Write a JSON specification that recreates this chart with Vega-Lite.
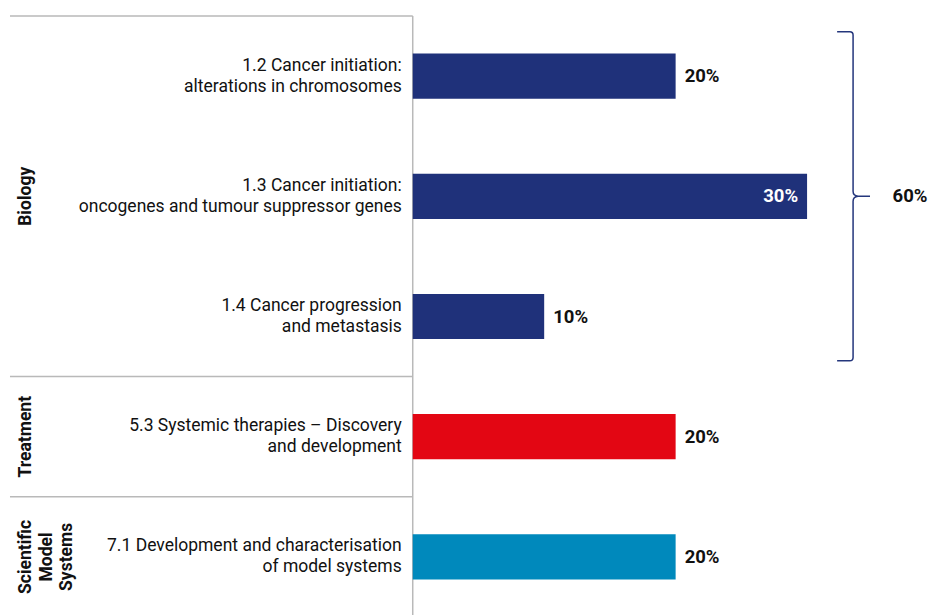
{
  "$schema": "https://vega.github.io/schema/vega-lite/v6.json",
  "width": 928,
  "height": 599,
  "autosize": {"type": "none"},
  "padding": {"top": 16, "left": 0, "right": 0, "bottom": 0},
  "background": "white",
  "config": {"view": {"stroke": null}, "font": "Roboto"},
  "datasets": {
    "bars": [
      {"code": "1.2", "label": "1.2 Cancer initiation:\nalterations in chromosomes", "group": "Biology", "value": 0.2},
      {"code": "1.3", "label": "1.3 Cancer initiation:\noncogenes and tumour suppressor genes", "group": "Biology", "value": 0.3},
      {"code": "1.4", "label": "1.4 Cancer progression\nand metastasis", "group": "Biology", "value": 0.1},
      {"code": "5.3", "label": "5.3 Systemic therapies – Discovery\nand development", "group": "Treatment", "value": 0.2},
      {"code": "7.1", "label": "7.1 Development and characterisation\nof model systems", "group": "Scientific Model Systems", "value": 0.2}
    ],
    "groups": [
      {"group": "Biology", "glabel": "Biology", "first": "1.2", "mid": "1.3", "total": 0.6},
      {"group": "Treatment", "glabel": "Treatment", "first": "5.3", "mid": "5.3"},
      {"group": "Scientific Model Systems", "glabel": "Scientific\nModel\nSystems", "first": "7.1", "mid": "7.1"}
    ],
    "one": [{}]
  },
  "layer": [
    {
      "data": {"name": "one"},
      "mark": {"type": "rule", "color": "#b9b9b9", "strokeWidth": 1.5},
      "encoding": {
        "x": {"datum": 0, "type": "quantitative", "scale": {"domain": [-0.314, 0.392], "nice": false, "zero": false}, "axis": null}
      }
    },
    {
      "data": {"name": "groups"},
      "mark": {"type": "rule", "color": "#b9b9b9", "strokeWidth": 1.5},
      "encoding": {
        "y": {"field": "first", "type": "nominal", "bandPosition": 0, "scale": {"domain": ["1.2", "1.3", "1.4", "5.3", "7.1"], "range": [0, 601], "paddingInner": 0, "paddingOuter": 0}, "axis": null},
        "x": {"datum": -0.3064, "type": "quantitative", "scale": {"domain": [-0.314, 0.392], "nice": false, "zero": false}, "axis": null},
        "x2": {"datum": 0}
      }
    },
    {
      "data": {"name": "bars"},
      "mark": {"type": "bar", "height": {"band": 0.376}},
      "encoding": {
        "y": {"field": "code", "type": "nominal", "scale": {"domain": ["1.2", "1.3", "1.4", "5.3", "7.1"], "range": [0, 601], "paddingInner": 0, "paddingOuter": 0}, "axis": null},
        "x": {"field": "value", "type": "quantitative", "scale": {"domain": [-0.314, 0.392], "nice": false, "zero": false}, "axis": null},
        "color": {"field": "group", "type": "nominal", "scale": {"domain": ["Biology", "Treatment", "Scientific Model Systems"], "range": ["#1f317a", "#e30613", "#0089bc"]}, "legend": null}
      }
    },
    {
      "data": {"name": "bars"},
      "transform": [{"filter": "datum.value < 0.3"}],
      "mark": {"type": "text", "align": "left", "baseline": "middle", "dx": 9, "fontSize": 18.5, "fontWeight": "bold", "color": "#111111"},
      "encoding": {
        "y": {"field": "code", "type": "nominal", "scale": {"domain": ["1.2", "1.3", "1.4", "5.3", "7.1"], "range": [0, 601], "paddingInner": 0, "paddingOuter": 0}, "axis": null},
        "x": {"field": "value", "type": "quantitative", "scale": {"domain": [-0.314, 0.392], "nice": false, "zero": false}, "axis": null},
        "text": {"field": "value", "type": "quantitative", "format": ".0%"}
      }
    },
    {
      "data": {"name": "bars"},
      "transform": [{"filter": "datum.value >= 0.3"}],
      "mark": {"type": "text", "align": "right", "baseline": "middle", "dx": -9, "fontSize": 18.5, "fontWeight": "bold", "color": "white"},
      "encoding": {
        "y": {"field": "code", "type": "nominal", "scale": {"domain": ["1.2", "1.3", "1.4", "5.3", "7.1"], "range": [0, 601], "paddingInner": 0, "paddingOuter": 0}, "axis": null},
        "x": {"field": "value", "type": "quantitative", "scale": {"domain": [-0.314, 0.392], "nice": false, "zero": false}, "axis": null},
        "text": {"field": "value", "type": "quantitative", "format": ".0%"}
      }
    },
    {
      "data": {"name": "bars"},
      "mark": {"type": "text", "align": "right", "baseline": "middle", "dx": -11, "dy": -10.5, "fontSize": 17.5, "lineHeight": 21, "lineBreak": "\n", "color": "#111111"},
      "encoding": {
        "y": {"field": "code", "type": "nominal", "scale": {"domain": ["1.2", "1.3", "1.4", "5.3", "7.1"], "range": [0, 601], "paddingInner": 0, "paddingOuter": 0}, "axis": null},
        "x": {"datum": 0, "type": "quantitative", "scale": {"domain": [-0.314, 0.392], "nice": false, "zero": false}, "axis": null},
        "text": {"field": "label", "type": "nominal"}
      }
    },
    {
      "data": {"name": "groups"},
      "mark": {"type": "text", "align": "center", "baseline": "alphabetic", "angle": 270, "fontSize": 17.5, "fontWeight": "bold", "lineHeight": 20.5, "lineBreak": "\n", "color": "#111111"},
      "encoding": {
        "y": {"field": "mid", "type": "nominal", "scale": {"domain": ["1.2", "1.3", "1.4", "5.3", "7.1"], "range": [0, 601], "paddingInner": 0, "paddingOuter": 0}, "axis": null},
        "x": {"datum": -0.2904, "type": "quantitative", "scale": {"domain": [-0.314, 0.392], "nice": false, "zero": false}, "axis": null},
        "text": {"field": "glabel", "type": "nominal"}
      }
    },
    {
      "data": {"name": "groups"},
      "transform": [{"filter": "isValid(datum.total)"}],
      "mark": {"type": "point", "shape": "M -0.097 -1 L -0.02 -1 Q 0 -1 0 -0.98 L 0 -0.03 Q 0 -0.003 0.03 0 L 0.103 0 M 0.03 0 Q 0 0.003 0 0.03 L 0 0.98 Q 0 1 -0.02 1 L -0.097 1", "size": 108241, "filled": false, "color": "#24367c", "opacity": 1, "strokeWidth": 1.5},
      "encoding": {
        "y": {"field": "mid", "type": "nominal", "scale": {"domain": ["1.2", "1.3", "1.4", "5.3", "7.1"], "range": [0, 601], "paddingInner": 0, "paddingOuter": 0}, "axis": null},
        "x": {"datum": 0.335, "type": "quantitative", "scale": {"domain": [-0.314, 0.392], "nice": false, "zero": false}, "axis": null}
      }
    },
    {
      "data": {"name": "groups"},
      "transform": [{"filter": "isValid(datum.total)"}],
      "mark": {"type": "text", "align": "center", "baseline": "middle", "fontSize": 18.5, "fontWeight": "bold", "color": "#111111"},
      "encoding": {
        "y": {"field": "mid", "type": "nominal", "scale": {"domain": ["1.2", "1.3", "1.4", "5.3", "7.1"], "range": [0, 601], "paddingInner": 0, "paddingOuter": 0}, "axis": null},
        "x": {"datum": 0.3783, "type": "quantitative", "scale": {"domain": [-0.314, 0.392], "nice": false, "zero": false}, "axis": null},
        "text": {"field": "total", "type": "quantitative", "format": ".0%"}
      }
    }
  ]
}
